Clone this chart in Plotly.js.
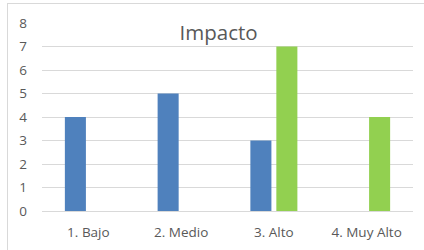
<!DOCTYPE html>
<html>
<head>
<meta charset="utf-8">
<script src="https://cdn.plot.ly/plotly-3.0.1.min.js"></script>
<style>
html,body{margin:0;padding:0;background:#fff;}
#wrap{position:relative;width:424px;height:250px;overflow:hidden;}
#chart{position:absolute;left:0;top:0;width:424px;height:250px;}
#frame{position:absolute;left:7px;top:3px;width:430px;height:260px;border-left:1px solid #d9d9d9;border-top:1px solid #d9d9d9;pointer-events:none;}
</style>
</head>
<body>
<div id="wrap"><div id="chart"></div><div id="frame"></div></div>
<script>
const categories = ["1. Bajo", "2. Medio", "3. Alto", "4. Muy Alto"];
const seriesBlue = [4, 5, 3, 0];
const seriesGreen = [0, 0, 7, 4];
const yTicks = [0, 1, 2, 3, 4, 5, 6, 7, 8];

const tickFont = {family: "Open Sans, sans-serif", size: 13.5, color: "#595959"};

const data = [
  {type: "bar", x: categories, y: seriesBlue, marker: {color: "#4F81BD"}, hoverinfo: "none"},
  {type: "bar", x: categories, y: seriesGreen, marker: {color: "#92D050"}, hoverinfo: "none"}
];

const layout = {
  width: 424, height: 250,
  margin: {l: 42, r: 11, t: 23, b: 39},
  paper_bgcolor: "rgba(0,0,0,0)",
  plot_bgcolor: "#fff",
  showlegend: false,
  barmode: "group",
  bargap: 0.44,
  bargroupgap: 0.19,
  title: {text: "Impacto", font: {family: "Open Sans, sans-serif", size: 20.5, color: "#595959"},
          x: 0.476, xanchor: "center", y: 0.87, yanchor: "middle", xref: "paper", yref: "container"},
  xaxis: {type: "category", tickfont: tickFont, showgrid: false, showline: false, ticks: "", ticklabelstandoff: 11, fixedrange: true},
  yaxis: {range: [0, 8], tickvals: yTicks, ticktext: yTicks.map(String), tickfont: tickFont,
          showgrid: true, gridcolor: "#d9d9d9", gridwidth: 1, zeroline: true, zerolinecolor: "#d9d9d9", zerolinewidth: 1,
          showline: false, ticks: "", ticklabelstandoff: 14, fixedrange: true}
};

Plotly.newPlot("chart", data, layout, {staticPlot: true, displayModeBar: false});
</script>
</body>
</html>
